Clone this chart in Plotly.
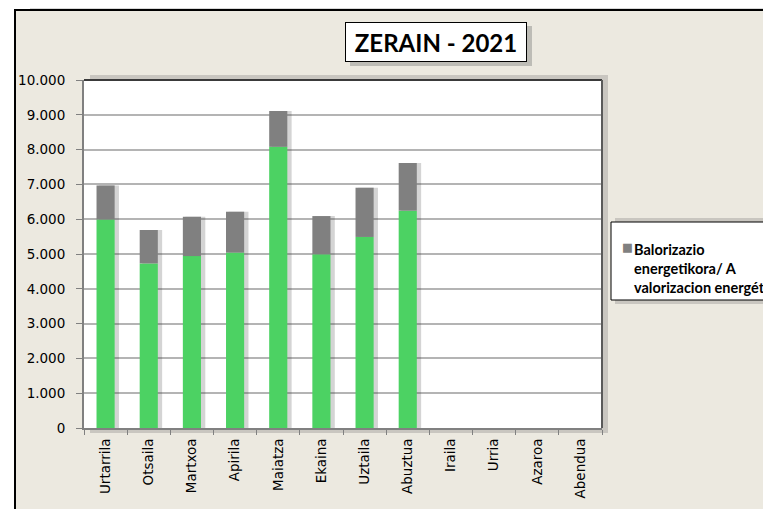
import plotly.graph_objects as go

months = ["Urtarrila", "Otsaila", "Martxoa", "Apirila", "Maiatza", "Ekaina",
          "Uztaila", "Abuztua", "Iraila", "Urria", "Azaroa", "Abendua"]
green_vals = [5990, 4730, 4940, 5040, 8080, 4990, 5490, 6245, None, None, None, None]
gray_vals = [980, 960, 1130, 1175, 1030, 1100, 1415, 1370, None, None, None, None]
gray_name = "Balorizazio<br>energetikora/ A<br>valorizacion energética"
title_text = "ZERAIN - 2021"

GREEN = "#4CD263"
GRAY = "#808080"

# the page adds an 8px body margin; figure is sized to fill the rest of the window
OFF = 8
W, H = 771 - OFF, 509 - OFF
L, R, T, B = 84 - OFF, 602 - OFF, 80 - OFF, 428 - OFF


def px(x):
    # page pixel x -> paper fraction
    return (x - OFF - L) / (R - L)


def py(y):
    # page pixel y -> paper fraction
    return (B - (y - OFF)) / (B - T)


totals = [None if g is None else g + s for g, s in zip(green_vals, gray_vals)]
BW = 0.42

fig = go.Figure()
# soft drop shadow behind the stacked columns
fig.add_trace(go.Bar(x=months, y=totals, name="shadow", width=BW + 0.04, offset=-BW / 2 + 0.06,
                     marker=dict(color="rgba(60,60,60,0.22)", line=dict(width=0)),
                     showlegend=False, hoverinfo="skip"))
fig.add_trace(go.Bar(x=months, y=green_vals, name="Birziklapena", width=BW, offset=-BW / 2,
                     marker=dict(color=GREEN, line=dict(width=0)),
                     showlegend=False))
fig.add_trace(go.Bar(x=months, y=gray_vals, base=green_vals, name=gray_name,
                     width=BW, offset=-BW / 2,
                     marker=dict(color=GRAY, line=dict(width=0)),
                     showlegend=False))

shapes = [
    # outer frame
    dict(type="rect", xref="paper", yref="paper", x0=px(15), x1=px(790), y0=py(530), y1=py(10),
         fillcolor="#ECE9E0", line=dict(color="#000000", width=2), layer="below"),
    # top shadow strip
    dict(type="rect", xref="paper", yref="paper", x0=px(30), x1=px(790), y0=py(9), y1=py(5),
         fillcolor="#D8D8D8", line=dict(width=0), layer="below"),
    # plot area shadow
    dict(type="rect", xref="paper", yref="paper", x0=px(90), x1=px(608), y0=py(433), y1=py(75),
         fillcolor="rgba(120,120,120,0.3)", line=dict(width=0), layer="below"),
    dict(type="rect", xref="paper", yref="paper", x0=0, x1=1, y0=0, y1=1,
         fillcolor="#FFFFFF", line=dict(width=0), layer="below"),
    # plot top/right darker border
    dict(type="line", xref="paper", yref="paper", x0=0, x1=1, y0=1, y1=1,
         line=dict(color="#3A3A3A", width=2)),
    dict(type="line", xref="paper", yref="paper", x0=1, x1=1, y0=0, y1=1,
         line=dict(color="#5A5A5A", width=2)),
    # legend box shadow + box
    dict(type="rect", xref="paper", yref="paper", x0=px(615), x1=px(790), y0=py(304), y1=py(218),
         fillcolor="rgba(120,120,120,0.3)", line=dict(width=0), layer="below"),
    dict(type="rect", xref="paper", yref="paper", x0=px(611), x1=px(790), y0=py(300), y1=py(222),
         fillcolor="#FFFFFF", line=dict(color="#000000", width=1), layer="below"),
    # title box shadow
    dict(type="rect", xref="paper", yref="paper", x0=px(350), x1=px(532), y0=py(66), y1=py(26),
         fillcolor="rgba(120,120,120,0.4)", line=dict(width=0), layer="below"),
]

annotations = [
    dict(text="<b>" + title_text + "</b>", xref="paper", yref="paper",
         x=px(436), y=py(42), xanchor="center", yanchor="middle", showarrow=False,
         font=dict(family="Lato, Open Sans, sans-serif", size=24, color="#000000"),
         bgcolor="#FFFFFF", bordercolor="#000000", borderwidth=1, borderpad=0,
         width=180, height=38),
    # legend swatch
    dict(text="■", xref="paper", yref="paper", x=px(620), y=py(247),
         xanchor="left", yanchor="middle", showarrow=False,
         font=dict(family="DejaVu Sans", size=11.5, color=GRAY)),
    # legend label
    dict(text="<b>" + gray_name + "</b>", xref="paper", yref="paper", x=px(632), y=py(239),
         xanchor="left", yanchor="top", align="left", showarrow=False,
         font=dict(family="Lato, Open Sans, sans-serif", size=14.5, color="#000000")),
]

fig.update_layout(
    width=W, height=H,
    margin=dict(l=L, r=W - R, t=T, b=H - B, pad=0, autoexpand=False),
    paper_bgcolor="#FFFFFF",
    plot_bgcolor="rgba(0,0,0,0)",
    barmode="overlay",
    separators=",.",
    shapes=shapes,
    annotations=annotations,
    showlegend=False,
    xaxis=dict(
        tickangle=-90, tickson="boundaries", ticks="outside", ticklen=5,
        tickcolor="#808080", showline=True, linecolor="#808080", linewidth=2,
        tickfont=dict(family="DejaVu Sans", size=13.5, color="#000000"),
        ticklabelstandoff=3,
        showgrid=False, automargin=False,
    ),
    yaxis=dict(
        range=[0, 10000], dtick=1000, tickformat=",d", ticks="outside", ticklen=6,
        tickcolor="#808080", showline=True, linecolor="#808080", linewidth=2,
        gridcolor="#B4B4B4", gridwidth=1.5,
        tickfont=dict(family="DejaVu Sans", size=13.5, color="#000000"),
        ticklabelstandoff=8,
        zeroline=False, automargin=False,
    ),
)

fig.write_html("out.html")
